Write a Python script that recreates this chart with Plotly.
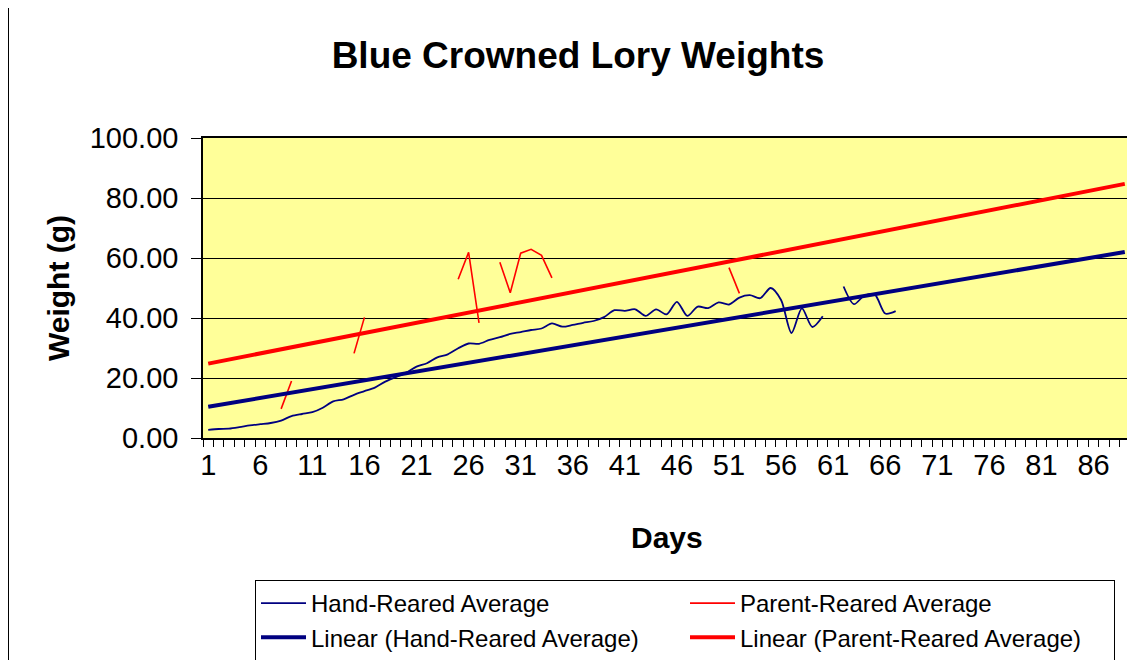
import plotly.graph_objects as go

# ---- data ----
days = list(range(1, 68))
hand_reared = [2.7, 3.0, 3.1, 3.6, 4.2, 4.6, 5.0, 5.8, 7.3, 8.0,
               8.6, 10.1, 12.2, 12.9, 14.4, 15.6, 16.8, 18.8, 20.3, 21.8,
               23.8, 24.9, 26.9, 27.9, 29.9, 31.5, 31.4, 32.7, 33.6, 34.7,
               35.3, 36.0, 36.5, 38.2, 37.1, 37.7, 38.4, 39.0, 40.3, 42.6,
               42.4, 42.9, 40.7, 42.9, 41.2, 45.4, 40.7, 43.8, 43.3, 45.2,
               44.5, 46.8, 47.6, 46.6, 50.0, 46.0, 35.0, 43.2, 37.0, 40.6,
               None, 50.5, 44.6, 47.5, 47.8, 41.5, 42.3]
parent_days = [8, 9, 15, 16, 25, 26, 27, 29, 30, 31, 32, 33, 34, 51, 52]
parent_reared = [9.7, 19.0, 28.2, 40.2, 52.9, 61.9, 38.4, 58.6, 48.4, 61.6,
                 62.9, 60.9, 53.4, 56.8, 48.2]
# insert gaps between non-consecutive parent-reared days
p_x, p_y = [], []
for i, (d, v) in enumerate(zip(parent_days, parent_reared)):
    if i > 0 and d - parent_days[i - 1] > 1:
        p_x.append(d - 0.5)
        p_y.append(None)
    p_x.append(d)
    p_y.append(v)

trend_days = [1, 89]
hand_trend = [10.4, 62.0]
parent_trend = [24.8, 84.7]

tick_days = list(range(1, 90, 5))
y_ticks = [0, 20, 40, 60, 80, 100]

NAVY = "#000080"
RED = "#FF0000"
FONT = "Liberation Sans, Arial, sans-serif"

fig = go.Figure()
fig.add_trace(go.Scatter(x=days, y=hand_reared, mode="lines", name="Hand-Reared Average",
                         line=dict(color=NAVY, width=1.8, shape="spline", smoothing=0.8),
                         connectgaps=False))
fig.add_trace(go.Scatter(x=p_x, y=p_y, mode="lines", name="Parent-Reared Average",
                         line=dict(color=RED, width=1.6), connectgaps=False))
fig.add_trace(go.Scatter(x=trend_days, y=hand_trend, mode="lines",
                         name="Linear (Hand-Reared Average)",
                         line=dict(color=NAVY, width=4)))
fig.add_trace(go.Scatter(x=trend_days, y=parent_trend, mode="lines",
                         name="Linear (Parent-Reared Average)",
                         line=dict(color=RED, width=4)))

# the page places the figure 8px in from the top-left corner
W, H = 1127, 652
L, R, T, B = 195, 5, 130, 222
pw, ph = W - L - R, H - T - B
OFF = 8


def px_x(page_x):
    return (page_x - OFF - L) / pw


def px_y(page_y):
    return (H - B - (page_y - OFF)) / ph


fig.update_layout(
    width=W, height=H,
    margin=dict(l=L, r=R, t=T, b=B, autoexpand=False),
    paper_bgcolor="white",
    plot_bgcolor="#FFFF99",
    font=dict(family=FONT, color="black"),
    title=dict(text="<b>Blue Crowned Lory Weights</b>", font=dict(size=37, family=FONT),
               x=(578 - OFF) / W, xanchor="center", xref="container",
               y=1 - (55 - OFF) / H, yanchor="middle", yref="container"),
    showlegend=True,
    legend=dict(orientation="h", x=px_x(255), xanchor="left",
                y=px_y(580), yanchor="top",
                font=dict(size=24, family=FONT),
                bordercolor="black", borderwidth=1,
                entrywidth=369, entrywidthmode="pixels",
                itemwidth=45, tracegroupgap=0, bgcolor="white"),
    xaxis=dict(range=[0.5, 89.5], tickmode="array", tickvals=tick_days,
               ticktext=[str(d) for d in tick_days], ticks="", showgrid=False,
               zeroline=False, showline=True, linecolor="black", linewidth=1.5,
               mirror=True, tickfont=dict(size=29, family=FONT),
               ticklabelstandoff=0,
               minor=dict(ticks="outside", tick0=0.5, dtick=1, ticklen=7,
                          tickcolor="black", tickwidth=1, showgrid=False)),
    yaxis=dict(range=[0, 100], tickvals=y_ticks, tickformat=".2f",
               ticks="outside", ticklen=10, tickcolor="black",
               showgrid=True, gridcolor="black", gridwidth=1,
               zeroline=False, showline=True, linecolor="black", linewidth=1.5,
               mirror=True, tickfont=dict(size=29, family=FONT),
               ticklabelstandoff=7),
    annotations=[
        dict(text="<b>Weight (g)</b>", textangle=-90, x=px_x(58), y=px_y(288),
             xref="paper", yref="paper", showarrow=False,
             font=dict(size=30, family=FONT), xanchor="center", yanchor="middle"),
        dict(text="<b>Days</b>", x=px_x(667), y=px_y(537),
             xref="paper", yref="paper", showarrow=False,
             font=dict(size=30, family=FONT), xanchor="center", yanchor="middle"),
    ],
    shapes=[
        dict(type="line", xref="paper", yref="paper",
             x0=px_x(8.5), x1=px_x(8.5), y0=px_y(700), y1=px_y(-20),
             line=dict(color="black", width=1)),
    ],
)

fig.write_html("out.html")
